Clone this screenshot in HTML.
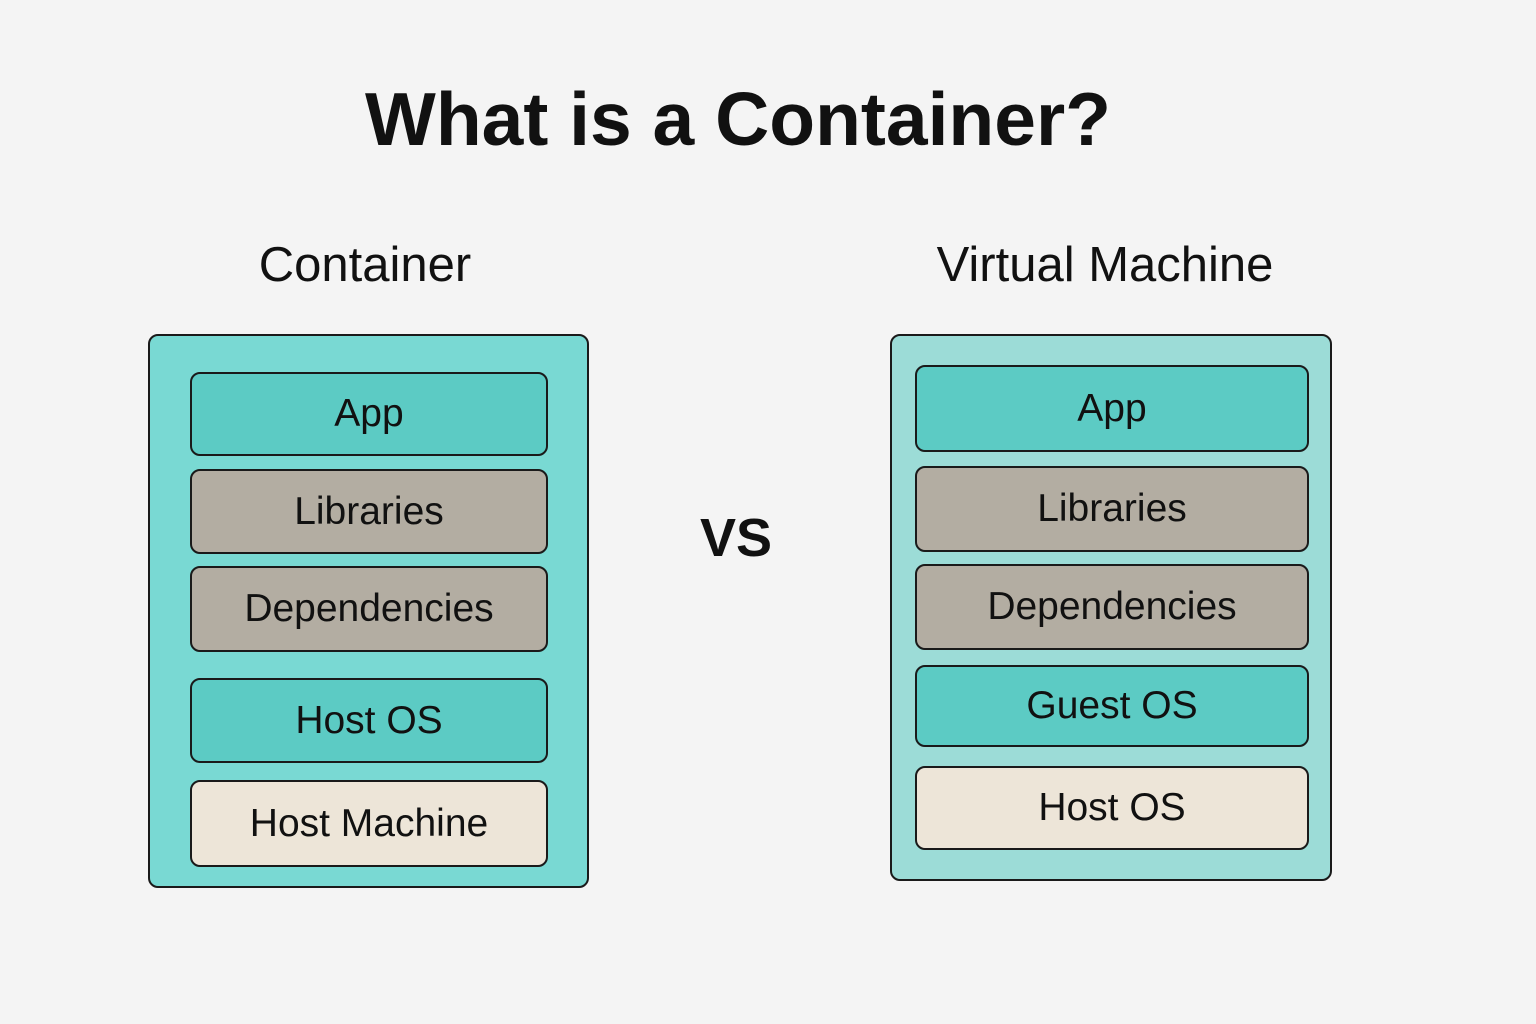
<!DOCTYPE html>
<html><head><style>
body{margin:0;width:1536px;height:1024px;background:#f4f4f4;position:relative;overflow:hidden;font-family:"Liberation Sans",sans-serif;color:#111}
.t{position:absolute;text-align:center;white-space:nowrap}
.p{position:absolute;border:2px solid #1a1a1a;border-radius:10px;box-sizing:border-box}
.b{position:absolute;border:2px solid #1a1a1a;border-radius:10px;box-sizing:border-box;display:flex;align-items:center;justify-content:center;font-size:39px}
.te{background:#5ccbc4}.g{background:#b3ada2}.c{background:#ede5d8}
</style></head><body>
<div class="t" style="left:0;width:1476px;top:76px;font-size:75px;font-weight:bold">What is a Container?</div>
<div class="t" style="left:165px;width:400px;top:237px;font-size:49px">Container</div>
<div class="t" style="left:905px;width:400px;top:237px;font-size:49px">Virtual Machine</div>
<div class="t" style="left:686px;width:100px;top:507px;font-size:54px;font-weight:bold">VS</div>

<div class="p" style="left:148px;top:334px;width:441px;height:554px;background:#79d9d3"></div>
<div class="b te" style="left:190px;top:372px;width:358px;height:84px">App</div>
<div class="b g" style="left:190px;top:469px;width:358px;height:85px">Libraries</div>
<div class="b g" style="left:190px;top:566px;width:358px;height:86px">Dependencies</div>
<div class="b te" style="left:190px;top:678px;width:358px;height:85px">Host OS</div>
<div class="b c" style="left:190px;top:780px;width:358px;height:87px">Host Machine</div>

<div class="p" style="left:890px;top:334px;width:442px;height:547px;background:#9cdcd7"></div>
<div class="b te" style="left:915px;top:365px;width:394px;height:87px">App</div>
<div class="b g" style="left:915px;top:466px;width:394px;height:86px">Libraries</div>
<div class="b g" style="left:915px;top:564px;width:394px;height:86px">Dependencies</div>
<div class="b te" style="left:915px;top:665px;width:394px;height:82px">Guest OS</div>
<div class="b c" style="left:915px;top:766px;width:394px;height:84px">Host OS</div>
</body></html>
